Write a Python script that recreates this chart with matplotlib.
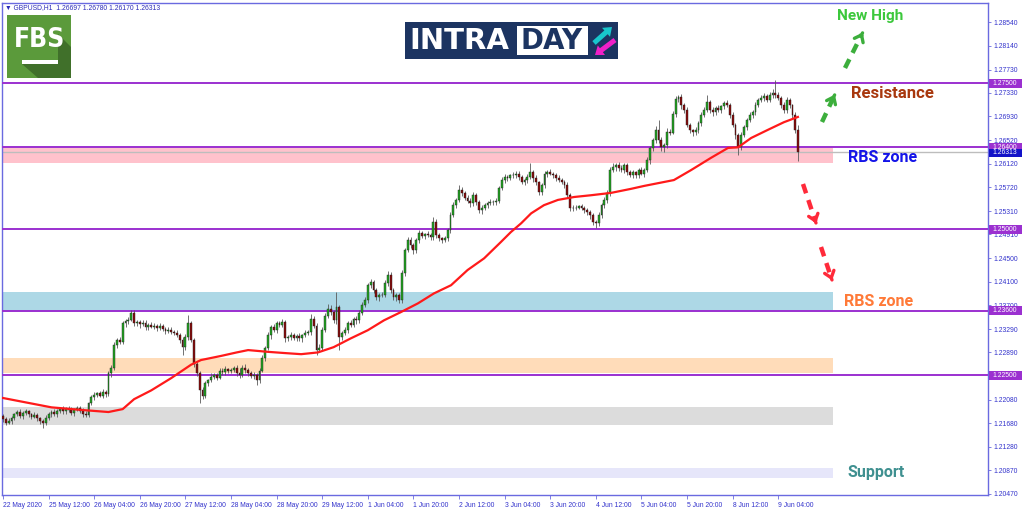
import matplotlib
matplotlib.use("Agg")
import matplotlib.pyplot as plt
import numpy as np
from matplotlib.patches import Rectangle, Polygon, FancyArrow
from matplotlib.lines import Line2D

plt.rcParams["font.family"] = ["Liberation Sans", "DejaVu Sans"]

# GBPUSD H1 closes, 22 May 2020 -> 9 Jun 2020 04:00
first_open = 1.2180
closes = [
    1.2175, 1.2169, 1.2172, 1.2177, 1.2183, 1.2187, 1.2181, 1.2185, 1.2188, 1.2183,
    1.2179, 1.2182, 1.2176, 1.2171, 1.2168, 1.2177, 1.2184, 1.2187, 1.2183, 1.2189,
    1.2192, 1.2188, 1.2193, 1.2190, 1.2186, 1.2191, 1.2194, 1.2189, 1.2184, 1.2182,
    1.2202, 1.2212, 1.2216, 1.2219, 1.2215, 1.2221, 1.2218, 1.2253, 1.2263, 1.2301,
    1.2310, 1.2307, 1.2339, 1.2342, 1.2345, 1.2356, 1.2339, 1.2341, 1.2337, 1.2340,
    1.2332, 1.2336, 1.2333, 1.2335, 1.2331, 1.2334, 1.2329, 1.2326, 1.2328, 1.2324,
    1.2322, 1.2319, 1.2310, 1.2298, 1.2315, 1.2339, 1.2310, 1.2270, 1.2253, 1.2224,
    1.2215, 1.2236, 1.2241, 1.2247, 1.2250, 1.2246, 1.2258, 1.2255, 1.2260, 1.2257,
    1.2259, 1.2262, 1.2253, 1.2250, 1.2263, 1.2259, 1.2253, 1.2248, 1.2251, 1.2241,
    1.2258, 1.2280, 1.2297, 1.2318, 1.2332, 1.2328, 1.2339, 1.2336, 1.2341, 1.2313,
    1.2315, 1.2319, 1.2314, 1.2317, 1.2313, 1.2318, 1.2322, 1.2324, 1.2347, 1.2335,
    1.2293, 1.2297, 1.2327, 1.2352, 1.2364, 1.2358, 1.2344, 1.2366, 1.2315, 1.2322,
    1.2327, 1.2339, 1.2336, 1.2347, 1.2344, 1.2357, 1.2370, 1.2378, 1.2404, 1.2409,
    1.2395, 1.2383, 1.2388, 1.2387, 1.2407, 1.2422, 1.2395, 1.2383, 1.2387, 1.2378,
    1.2425, 1.2464, 1.2481, 1.2472, 1.2464, 1.2481, 1.2493, 1.2488, 1.2491, 1.2490,
    1.2486, 1.2512, 1.2490, 1.2484, 1.2481, 1.2484, 1.2498, 1.2524, 1.2541, 1.2550,
    1.2567, 1.2561, 1.2553, 1.2549, 1.2544, 1.2558, 1.2546, 1.2532, 1.2536, 1.2541,
    1.2544, 1.2547, 1.2546, 1.2548, 1.2570, 1.2584, 1.2589, 1.2587, 1.2592, 1.2592,
    1.2595, 1.2589, 1.2580, 1.2584, 1.2589, 1.2597, 1.2587, 1.2580, 1.2563, 1.2575,
    1.2595, 1.2597, 1.2595, 1.2592, 1.2587, 1.2584, 1.2580, 1.2575, 1.2558, 1.2537,
    1.2536, 1.2537, 1.2539, 1.2536, 1.2532, 1.2529, 1.2524, 1.2512, 1.2510, 1.2524,
    1.2541, 1.2550, 1.2561, 1.2601, 1.2606, 1.2609, 1.2604, 1.2601, 1.2609, 1.2597,
    1.2592, 1.2597, 1.2592, 1.2601, 1.2595, 1.2601, 1.2618, 1.2638, 1.2652, 1.2669,
    1.2652, 1.2640, 1.2644, 1.2667, 1.2665, 1.2697, 1.2722, 1.2726, 1.2712, 1.2704,
    1.2678, 1.2669, 1.2666, 1.2669, 1.2681, 1.2695, 1.2704, 1.2717, 1.2704, 1.2700,
    1.2707, 1.2704, 1.2710, 1.2716, 1.2712, 1.2695, 1.2678, 1.2661, 1.2640, 1.2661,
    1.2674, 1.2686, 1.2695, 1.2700, 1.2712, 1.2721, 1.2724, 1.2728, 1.2721, 1.2729,
    1.2733, 1.2729, 1.2724, 1.2712, 1.2704, 1.2721, 1.2712, 1.2695, 1.26697, 1.26313,
]
# wick lengths above / below the body, in pips
up_wick = [
    4, 3, 5, 4, 3, 4, 6, 3, 4, 3,  3, 5, 4, 3, 4, 5, 3, 4, 6, 3,
    4, 5, 3, 4, 6, 3, 4, 3, 5, 4,  3, 4, 5, 3, 4, 6, 3, 5, 4, 6,
    4, 6, 3, 5, 4, 5, 6, 3, 4, 5,  4, 3, 5, 4, 3, 6, 4, 3, 5, 4,
    3, 5, 4, 6, 5, 14, 4, 3, 5, 4,  5, 4, 3, 6, 4, 3, 5, 4, 6, 3,
    4, 3, 5, 9, 4, 6, 3, 5, 4, 3,  4, 5, 3, 6, 4, 5, 3, 4, 6, 3,
    4, 5, 3, 4, 6, 3, 5, 4, 8, 5,  4, 6, 5, 4, 8, 6, 4, 26, 5, 4,
    5, 4, 6, 3, 5, 4, 6, 5, 4, 6,  4, 5, 3, 4, 6, 7, 4, 5, 3, 4,
    5, 4, 6, 5, 4, 3, 5, 4, 3, 5,  4, 8, 5, 4, 3, 5, 4, 6, 5, 4,
    8, 5, 4, 6, 4, 5, 3, 4, 6, 4,  5, 4, 3, 5, 4, 6, 5, 4, 3, 5,
    4, 5, 3, 4, 6, 16, 4, 5, 3, 4,  5, 4, 6, 3, 4, 5, 3, 4, 5, 4,
    4, 5, 3, 4, 3, 5, 4, 3, 4, 5,  4, 5, 6, 5, 8, 4, 6, 5, 4, 5,
    4, 5, 3, 4, 5, 4, 6, 5, 4, 8,  17, 5, 4, 6, 5, 6, 5, 4, 6, 4,
    5, 4, 3, 5, 4, 6, 5, 13, 4, 5,  4, 5, 3, 4, 5, 4, 6, 3, 4, 5,
    4, 5, 6, 4, 5, 4, 6, 5, 4, 5,  6, 22, 5, 4, 6, 5, 4, 3, 5, 8,
]
down_wick = [
    5, 4, 3, 5, 4, 3, 4, 6, 3, 4,  4, 3, 5, 4, 8, 3, 4, 5, 3, 4,
    3, 4, 5, 3, 4, 5, 3, 4, 5, 3,  4, 3, 5, 4, 3, 4, 5, 3, 6, 4,
    5, 4, 3, 6, 4, 3, 5, 4, 6, 3,  4, 5, 3, 4, 5, 3, 4, 5, 3, 4,
    4, 3, 5, 14, 4, 5, 4, 6, 5, 21,  6, 4, 5, 3, 4, 5, 3, 4, 5, 4,
    3, 4, 5, 4, 3, 5, 4, 3, 5, 8,  4, 3, 5, 4, 6, 4, 5, 3, 4, 6,
    5, 4, 3, 5, 4, 6, 3, 4, 5, 4,  8, 4, 5, 3, 4, 5, 4, 6, 22, 4,
    4, 5, 3, 4, 6, 5, 4, 3, 5, 4,  5, 4, 6, 3, 4, 5, 4, 5, 6, 4,
    4, 5, 3, 4, 6, 5, 4, 3, 5, 4,  5, 4, 6, 5, 4, 3, 5, 4, 3, 5,
    4, 5, 3, 4, 6, 5, 4, 5, 6, 4,  5, 3, 4, 5, 4, 3, 5, 4, 3, 4,
    4, 5, 3, 4, 5, 4, 6, 5, 4, 5,  4, 5, 3, 4, 5, 4, 3, 5, 4, 6,
    5, 4, 3, 4, 5, 4, 6, 5, 8, 4,  5, 4, 6, 5, 4, 6, 5, 4, 5, 4,
    3, 4, 5, 4, 3, 5, 4, 6, 5, 4,  5, 6, 8, 5, 4, 3, 5, 4, 6, 5,
    4, 5, 6, 5, 4, 5, 3, 4, 5, 6,  4, 3, 5, 4, 3, 5, 4, 6, 13, 5,
    4, 5, 3, 4, 5, 3, 4, 5, 4, 3,  4, 5, 3, 4, 6, 5, 4, 5, 6, 14,
]

# moving average (red line), read at bar positions
ma_idx = [0, 17, 29, 37, 40, 42, 46, 52, 59, 66, 69.5, 76.5, 82, 86, 93, 98.6,
          104.6, 110.5, 116, 122, 128, 133.7, 139.6, 145.6, 151.2, 157.2, 163,
          168.8, 174.7, 178.2, 181.8, 185.3, 189.8, 194.7, 200.4, 206.3, 213.3,
          220.4, 225, 235.4, 241.4, 248.4, 254.4, 257.9, 262.5, 268.4, 274, 278.9]
ma_val = [1.2211, 1.2195, 1.2190, 1.2187, 1.2190, 1.2192, 1.2209, 1.2224, 1.2245,
          1.2268, 1.2276, 1.2283, 1.2289, 1.2293, 1.2290, 1.2288, 1.2286, 1.2289,
          1.2298, 1.2313, 1.2327, 1.2344, 1.2358, 1.2373, 1.2390, 1.2404, 1.2430,
          1.2450, 1.2478, 1.2495, 1.2510, 1.2527, 1.2541, 1.2550, 1.2555, 1.2558,
          1.2562, 1.2569, 1.2574, 1.2584, 1.2601, 1.2622, 1.2639, 1.2640, 1.2656,
          1.2670, 1.2683, 1.2692]

levels = [1.2750, 1.2640, 1.2500, 1.2360, 1.2250]
last_price = 1.26313
zone_lo = [1.2614, 1.2360, 1.2253, 1.2164, 1.2074]
zone_hi = [1.2638, 1.2392, 1.2280, 1.2195, 1.2091]

ytick_vals = [1.28540, 1.28140, 1.27730, 1.27330, 1.26930, 1.26520, 1.26120,
              1.25720, 1.25310, 1.24910, 1.24500, 1.24100, 1.23700, 1.23290,
              1.22890, 1.22080, 1.21680, 1.21280, 1.20870, 1.20470]
xtick_labels = ["22 May 2020", "25 May 12:00", "26 May 04:00", "26 May 20:00",
                "27 May 12:00", "28 May 04:00", "28 May 20:00", "29 May 12:00",
                "1 Jun 04:00", "1 Jun 20:00", "2 Jun 12:00", "3 Jun 04:00",
                "3 Jun 20:00", "4 Jun 12:00", "5 Jun 04:00", "5 Jun 20:00",
                "8 Jun 12:00", "9 Jun 04:00"]
header = "\u25bc GBPUSD,H1  1.26697 1.26780 1.26170 1.26313"

W, H = 1024, 511
frame = "#6a6ae0"
purple = "#9b30d0"

fig = plt.figure(figsize=(W / 100, H / 100), dpi=100, facecolor="white")
ax = fig.add_axes([2 / W, (H - 495) / H, 986 / W, 492 / H])
ax.set_xlim(-0.35, 345.6)
ax.set_ylim(1.2045, 1.2887)
for s in ax.spines.values():
    s.set_color(frame)
    s.set_linewidth(1)

# zones
zone_colors = ["#ffc2cc", "#add8e6", "#ffdcb9", "#dcdcdc", "#e6e6fa"]
for lo_, hi_, col in zip(zone_lo, zone_hi, zone_colors):
    ax.axhspan(lo_, hi_, xmin=0, xmax=0.843, color=col, lw=0, zorder=1)

for lv in levels:
    ax.axhline(lv, color=purple, lw=1.4, zorder=3)
ax.axhline(last_price, color="#bdbdbd", lw=1, zorder=2)

# candles
c = np.array(closes)
o = np.concatenate([[first_open], c[:-1]])
hi = np.maximum(o, c) + np.array(up_wick) * 1e-4
lo = np.minimum(o, c) - np.array(down_wick) * 1e-4
idx = np.arange(len(c))
bull = c >= o
ax.vlines(idx, lo, hi, color="#5a5a5a", lw=0.6, zorder=4)
ax.bar(idx, np.maximum(np.abs(c - o), 0.00004), bottom=np.minimum(o, c), width=0.65,
       color=np.where(bull, "#23a823", "#8b0a0a"), edgecolor="#1e1e1e", linewidth=0.3, zorder=5)

ax.plot(ma_idx, ma_val, color="#ff1a1a", lw=1.6, zorder=6, solid_joinstyle="round")

# axes ticks
ax.yaxis.tick_right()
ax.set_yticks(ytick_vals)
ax.set_yticklabels([f"{v:.5f}" for v in ytick_vals])
ax.tick_params(axis="y", length=2, width=0.6, color=frame, labelcolor="#3333cc", labelsize=4.9, pad=2)
ax.set_xticks(np.arange(len(xtick_labels)) * 16)
ax.set_xticklabels(xtick_labels, ha="left")
ax.tick_params(axis="x", length=3, width=0.6, color=frame, labelcolor="#3333cc", labelsize=4.9, pad=2)

# overlay in pixel coordinates (y from top)
ov = fig.add_axes([0, 0, 1, 1], zorder=10)
ov.set_xlim(0, W)
ov.set_ylim(H, 0)
ov.axis("off")
ov.patch.set_alpha(0)

def price_y(p):
    return H - ax.transData.transform((0, p))[1]

for lv in levels:
    y = price_y(lv)
    ov.add_patch(Rectangle((989, y - 4.5), 33, 9, color=purple, lw=0))
    ov.text(992, y, f"{lv:.5f}", color="white", fontsize=4.9, va="center", ha="left")
y = price_y(last_price)
ov.add_patch(Rectangle((989, y - 3.5), 33, 8, color="#1212c8", lw=0))
ov.text(992, y + 0.5, f"{last_price:.5f}", color="white", fontsize=4.9, va="center", ha="left")

ov.text(5, 8, header, color="#2a2ab8", fontsize=4.9, va="center", ha="left")

# FBS logo
ov.add_patch(Rectangle((7, 15), 64, 63, color="#5b9a3b", lw=0))
ov.add_patch(Polygon([(58, 34), (71, 47), (71, 78), (38, 78), (22, 64), (58, 64)],
                     closed=True, color="#40702a", lw=0))
ov.text(40, 40, "FBS", color="white", fontsize=19, fontweight="bold", ha="center", va="center",
        family=["DejaVu Sans"], fontstretch="condensed")
ov.add_patch(Rectangle((22, 60), 36, 4, color="white", lw=0))

# INTRADAY logo
ov.add_patch(Rectangle((405, 22), 213, 37, color="#1c3461", lw=0))
ov.add_patch(Rectangle((517, 26), 71, 29, color="white", lw=0))
ov.text(409, 41, "INTRA", color="white", fontsize=21, fontweight="bold", ha="left", va="center",
        family=["DejaVu Sans"])
ov.text(552, 41, "DAY", color="#1c3461", fontsize=20, fontweight="bold", ha="center", va="center",
        family=["DejaVu Sans"])
ov.add_patch(FancyArrow(594, 43, 18, -16, width=5, head_width=12, head_length=8,
                        length_includes_head=True, color="#18c6cc", lw=0))
ov.add_patch(FancyArrow(615, 40, -20, 15, width=5, head_width=12, head_length=8,
                        length_includes_head=True, color="#f020c8", lw=0))

# annotations
def dashed_arrow(x0, y0, x1, y1, col):
    v = np.array([x1 - x0, y1 - y0], float)
    v /= np.hypot(*v)
    ov.add_line(Line2D([x0, x1 - 5 * v[0]], [y0, y1 - 5 * v[1]], color=col, lw=3.2,
                       dashes=(2.2, 1.6), solid_capstyle="butt"))
    ov.annotate("", xy=(x1, y1), xytext=(x1 - 6 * v[0], y1 - 6 * v[1]),
                arrowprops=dict(arrowstyle="->,head_length=0.45,head_width=0.35", lw=2.4, color=col))

dashed_arrow(822, 122, 836, 92, "#3cae3c")
dashed_arrow(845, 68, 864, 30, "#3cae3c")
dashed_arrow(803, 184, 817, 226, "#ff2a3a")
dashed_arrow(821, 247, 833, 283, "#ff2a3a")

lab = dict(family=["Roboto"], fontweight="bold", ha="center", va="center")
ov.text(870, 16, "New High", color="#3cc83c", fontsize=11, **lab)
ov.text(892, 93, "Resistance", color="#a8380e", fontsize=12, **lab)
ov.text(883, 157, "RBS zone", color="#1414e8", fontsize=11.5, **lab)
ov.text(879, 302, "RBS zone", color="#ff7a38", fontsize=11.5, **lab)
ov.text(876, 473, "Support", color="#3f9090", fontsize=11.5, **lab)

fig.savefig("out.png", dpi=100, facecolor="white")
